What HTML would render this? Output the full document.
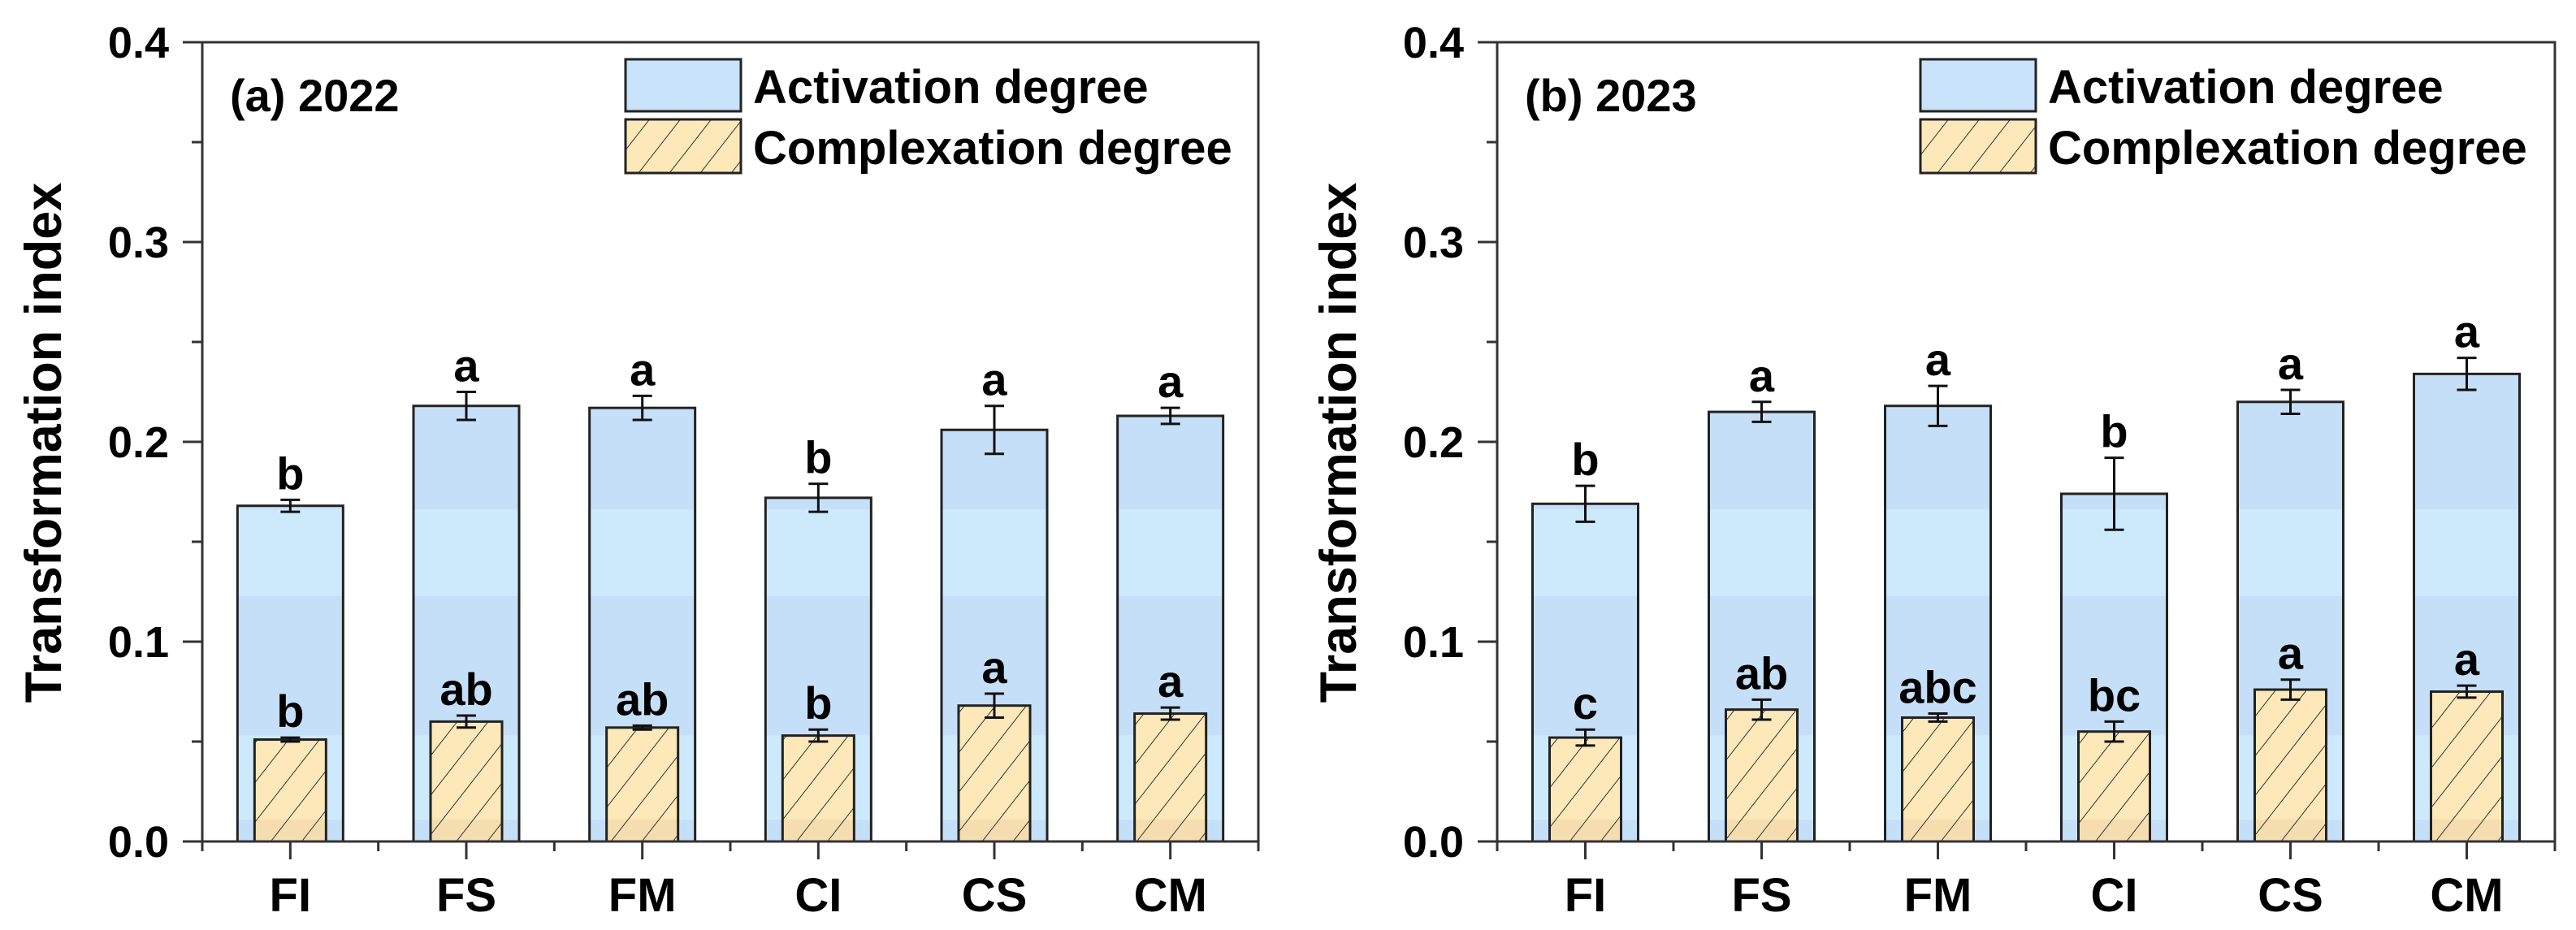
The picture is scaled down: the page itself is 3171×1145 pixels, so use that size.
<!DOCTYPE html>
<html><head><meta charset="utf-8"><style>
html,body{margin:0;padding:0;background:#fff;}
svg{display:block;font-family:"Liberation Sans",Arial,sans-serif;font-weight:bold;}
</style></head><body>
<svg id="chart" width="3171" height="1145" viewBox="0 0 3171 1145" xmlns="http://www.w3.org/2000/svg">
<defs>
<pattern id="hatch" patternUnits="userSpaceOnUse" width="30" height="30" patternTransform="rotate(38)">
<line x1="0" y1="0" x2="0" y2="30" stroke="#333" stroke-width="2"/>
</pattern>
<linearGradient id="blueBand" x1="0" y1="0" x2="0" y2="1" gradientUnits="userSpaceOnUse"></linearGradient>
</defs>
</svg>
<script>
const categories = ["FI","FS","FM","CI","CS","CM"];
const act2022 = [0.168,0.218,0.217,0.172,0.206,0.213];
const actErr2022 = [0.003,0.007,0.006,0.007,0.012,0.004];
const cpx2022 = [0.051,0.060,0.057,0.053,0.068,0.064];
const cpxErr2022 = [0.001,0.003,0.001,0.003,0.006,0.003];
const actLetters2022 = ["b","a","a","b","a","a"];
const cpxLetters2022 = ["b","ab","ab","b","a","a"];
const act2023 = [0.169,0.215,0.218,0.174,0.220,0.234];
const actErr2023 = [0.009,0.005,0.010,0.018,0.006,0.008];
const cpx2023 = [0.052,0.066,0.062,0.055,0.076,0.075];
const cpxErr2023 = [0.004,0.005,0.002,0.005,0.005,0.003];
const actLetters2023 = ["b","a","a","b","a","a"];
const cpxLetters2023 = ["c","ab","abc","bc","a","a"];
const yTicks = [0.0,0.1,0.2,0.3,0.4];
const yTickLabels = ["0.0","0.1","0.2","0.3","0.4"];
const bandEdges = [0,0.011,0.053,0.123,0.166,0.4];

const NS="http://www.w3.org/2000/svg";
const svg=document.getElementById('chart');
function el(tag,attrs,parent){const e=document.createElementNS(NS,tag);for(const k in attrs)e.setAttribute(k,attrs[k]);(parent||svg).appendChild(e);return e;}

const Y0=1036, Y1=52, YMAX=0.4;
function yScale(v){return Y0-(v/YMAX)*(Y0-Y1);}

function panel(x0,x1,title,act,actErr,cpx,cpxErr,aL,cL,key){
  const g=el('g',{});
  
  
  const step=(x1-x0)/categories.length;
  const xc=i=>x0+step*(i+0.5);
  const clipId='clip-'+key;
  // bars
  categories.forEach((c,i)=>{
    const cx=xc(i);
    // activation bar with bands
    const bw=130, top=yScale(act[i]);
    const cp=el('clipPath',{id:clipId+'a'+i},g);
    el('rect',{x:cx-bw/2,y:top,width:bw,height:Y0-top},cp);
    const bg=el('g',{'clip-path':'url(#'+clipId+'a'+i+')'},g);
    for(let b=0;b<bandEdges.length-1;b++){
      const r=el('rect',{x:cx-bw/2,y:yScale(bandEdges[b+1]),width:bw,height:yScale(bandEdges[b])-yScale(bandEdges[b+1]),fill:(b%2===0)?'#c6dff8':'#cdeafd'},bg);
    }
    const ab=el('rect',{x:cx-bw/2,y:top,width:bw,height:Y0-top,fill:'none',stroke:'#222','stroke-width':3},g);
    
    
    // complexation bar
    const cw=88, ct=yScale(cpx[i]);
    const cp2=el('clipPath',{id:clipId+'c'+i},g);
    el('rect',{x:cx-cw/2,y:ct,width:cw,height:Y0-ct},cp2);
    const cg=el('g',{'clip-path':'url(#'+clipId+'c'+i+')'},g);
    el('rect',{x:cx-cw/2,y:ct,width:cw,height:Y0-ct,fill:'#fde8b9'},cg);
    el('rect',{x:cx-cw/2,y:yScale(0.011),width:cw,height:Y0-yScale(0.011),fill:'#f6ddb0'},cg);
    el('rect',{x:cx-cw/2,y:ct,width:cw,height:Y0-ct,fill:'url(#hatch)'},cg);
    const cb=el('rect',{x:cx-cw/2,y:ct,width:cw,height:Y0-ct,fill:'none',stroke:'#222','stroke-width':3},g);
    
    
    // error bars
    [[act[i],actErr[i],aL[i],'activation'],[cpx[i],cpxErr[i],cL[i],'complexation']].forEach(([v,e,l,n])=>{
      const yt=yScale(v+e), yb=yScale(v-e);
      const eg=el('g',{stroke:'#111','stroke-width':3},g);
      
      
      el('line',{x1:cx,y1:yt,x2:cx,y2:yb},eg);
      el('line',{x1:cx-12,y1:yt,x2:cx+12,y2:yt},eg);
      el('line',{x1:cx-12,y1:yb,x2:cx+12,y2:yb},eg);
      const t=el('text',{x:cx,y:yt-13,'text-anchor':'middle','font-size':56,fill:'#000'},g);
      t.textContent=l;
      
      
    });
    // x tick + label
    el('line',{x1:cx,y1:Y0,x2:cx,y2:Y0+22,stroke:'#333','stroke-width':3},g);
    if(i<categories.length-1) el('line',{x1:x0+step*(i+1),y1:Y0,x2:x0+step*(i+1),y2:Y0+12,stroke:'#333','stroke-width':3},g);
    const xl=el('text',{x:cx,y:1122,'text-anchor':'middle','font-size':58,fill:'#000'},g);
    xl.textContent=c;
    
    
  });
  // frame
  const fr=el('rect',{x:x0,y:Y1,width:x1-x0,height:Y0-Y1,fill:'none',stroke:'#333','stroke-width':3},g);
  
  
  el('line',{x1:x0,y1:Y0,x2:x0,y2:Y0+12,stroke:'#333','stroke-width':3},g);
  el('line',{x1:x1,y1:Y0,x2:x1,y2:Y0+12,stroke:'#333','stroke-width':3},g);
  // y ticks
  yTicks.forEach((v,k)=>{
    const y=yScale(v);
    el('line',{x1:x0-24,y1:y,x2:x0,y2:y,stroke:'#333','stroke-width':3},g);
    if(k<yTicks.length-1){const ym=yScale(v+0.05);el('line',{x1:x0-13,y1:ym,x2:x0,y2:ym,stroke:'#333','stroke-width':3},g);}
    const t=el('text',{x:x0-41,y:y+19,'text-anchor':'end','font-size':54,fill:'#000'},g);
    t.textContent=yTickLabels[k];
    
    
  });
  // y axis title
  const yt=el('text',{x:0,y:0,'text-anchor':'middle','font-size':63,fill:'#000',transform:'translate('+(x0-174)+',545) rotate(-90)'},g);
  yt.textContent='Transformation index';
  
  
  // panel title
  const pt=el('text',{x:x0+34,y:137,'font-size':56,fill:'#000'},g);
  pt.textContent=title;
  
  
  // legend
  const lg=el('g',{},g);
  
  
  const lx=x0+521;
  const e1=el('g',{},lg);
  
  
  el('rect',{x:lx,y:73,width:142,height:64,fill:'#c8e2f9',stroke:'#222','stroke-width':3},e1);
  const t1=el('text',{x:lx+157,y:127,'font-size':58,fill:'#000'},e1);t1.textContent='Activation degree';
  const e2=el('g',{},lg);
  
  
  el('rect',{x:lx,y:147,width:142,height:66,fill:'#fde8b9'},e2);
  el('rect',{x:lx,y:147,width:142,height:66,fill:'url(#hatch)'},e2);
  el('rect',{x:lx,y:147,width:142,height:66,fill:'none',stroke:'#222','stroke-width':3},e2);
  const t2=el('text',{x:lx+157,y:202,'font-size':58,fill:'#000'},e2);t2.textContent='Complexation degree';
}
panel(249,1549,'(a) 2022',act2022,actErr2022,cpx2022,cpxErr2022,actLetters2022,cpxLetters2022,'2022');
panel(1843,3145,'(b) 2023',act2023,actErr2023,cpx2023,cpxErr2023,actLetters2023,cpxLetters2023,'2023');
</script>
</body></html>
